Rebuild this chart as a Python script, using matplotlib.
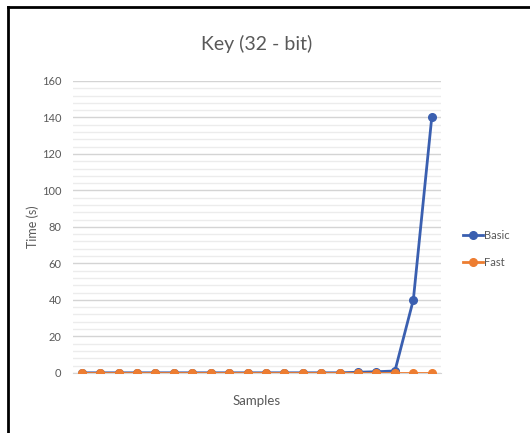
import matplotlib.pyplot as plt
from matplotlib.ticker import MultipleLocator
from matplotlib.lines import Line2D

# Data
samples = list(range(1, 21))
basic = [0, 0, 0, 0, 0, 0, 0, 0, 0, 0, 0, 0, 0, 0, 0, 0.3, 0.6, 1.0, 40, 140]
fast = [0] * 20

plt.rcParams['font.family'] = ['Lato', 'DejaVu Sans']
grey = '#595959'

fig = plt.figure(figsize=(5.3, 4.33), dpi=100)
ax = fig.add_axes([0.137, 0.139, 0.695, 0.674])

x = list(range(len(samples)))
ax.plot(x, basic, color='#3A5FB0', lw=2, marker='o', ms=5.5, label='Basic', zorder=3)
ax.plot(x, fast, color='#ED7D31', lw=2, marker='o', ms=5.5, label='Fast', zorder=4)

ax.set_xlim(-0.5, len(samples) - 0.5)
ax.set_ylim(0, 160)
ax.yaxis.set_major_locator(MultipleLocator(20))
ax.yaxis.set_minor_locator(MultipleLocator(4))
ax.grid(which='major', axis='y', color='#d4d4d4', lw=1)
ax.grid(which='minor', axis='y', color='#ececec', lw=1)
ax.set_axisbelow(True)
ax.set_xticks([])
for s in ['top', 'right', 'left']:
    ax.spines[s].set_visible(False)
ax.spines['bottom'].set_color('#d4d4d4')
ax.tick_params(axis='y', which='both', length=0, labelsize=8, colors=grey, pad=8)

ax.set_title('Key (32 - bit)', fontsize=14, color=grey, pad=22)
ax.set_ylabel('Time (s)', fontsize=9, color=grey, labelpad=2)
ax.set_xlabel('Samples', fontsize=9.5, color=grey, labelpad=16)

fig.legend(loc='center left', bbox_to_anchor=(0.855, 0.425), frameon=False,
           fontsize=8, labelcolor=grey, handlelength=1.8, handletextpad=0.1,
           labelspacing=1.4)

# black frame on the left and top edges of the screenshot
fig.add_artist(Line2D([0.016, 0.016], [0, 0.984], color='black', lw=2, transform=fig.transFigure))
fig.add_artist(Line2D([0.016, 1.0], [0.984, 0.984], color='black', lw=2, transform=fig.transFigure))

fig.savefig('out.png', dpi=100)
